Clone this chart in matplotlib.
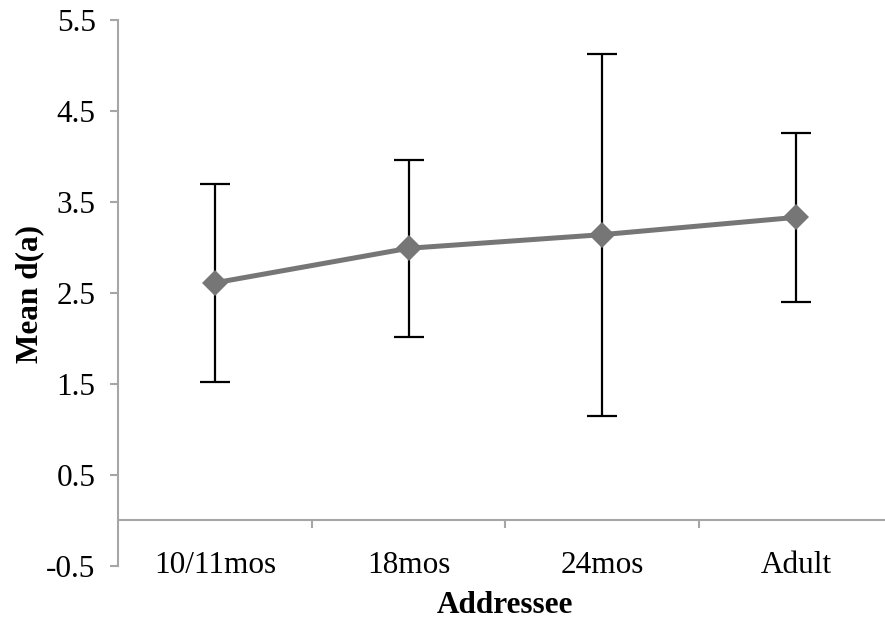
import matplotlib.pyplot as plt
import matplotlib.transforms as mtransforms

categories = ['10/11mos', '18mos', '24mos', 'Adult']
mean_da = [2.61, 2.99, 3.14, 3.33]
err_da = [1.09, 0.97, 1.99, 0.93]
yticks = [-0.5, 0.5, 1.5, 2.5, 3.5, 4.5, 5.5]

plt.rcParams['font.family'] = ['Liberation Serif', 'DejaVu Serif']

fig = plt.figure(figsize=(8.85, 6.19), dpi=100)
ax = fig.add_axes([0.1333, 0.0861, 0.8667, 0.8816])

xs = list(range(len(categories)))

# error bars under the line
ax.errorbar(xs, mean_da, yerr=err_da, fmt='none', ecolor='black',
            elinewidth=1.6, capsize=11, capthick=1.6, zorder=2)
ax.plot(xs, mean_da, color='#767676', lw=3.6, marker='D', ms=13,
        markeredgewidth=0, zorder=3)

ax.set_xlim(-0.5, 3.46)
ax.set_ylim(-0.5, 5.5)
ax.set_yticks(yticks)
ax.set_yticklabels([str(v) for v in yticks], fontsize=22.5)

spine_col = '#a6a6a6'
for s in ['top', 'right']:
    ax.spines[s].set_visible(False)
ax.spines['left'].set_color(spine_col)
ax.spines['left'].set_linewidth(1.5)
ax.spines['bottom'].set_color(spine_col)
ax.spines['bottom'].set_linewidth(1.5)
ax.spines['bottom'].set_position(('data', 0))

ax.tick_params(axis='y', direction='out', length=6, width=1.5, color=spine_col, pad=10)
ax.set_xticks([0.5, 1.5, 2.5])
ax.set_xticklabels([])
ax.tick_params(axis='x', direction='out', length=6, width=1.5, color=spine_col)

# category labels sit at the bottom of the plot area
for i, c in enumerate(categories):
    ax.text(i, -0.5, c, ha='center', va='center', fontsize=22.5, clip_on=False)

ax.text(1.5, -0.5, 'Addressee', ha='center', va='center', fontsize=22.5, fontweight='bold',
        transform=mtransforms.offset_copy(ax.transData, fig=fig, y=-40, units='dots'),
        clip_on=False)
fig.text(0.034, 0.525, 'Mean d(a)', rotation=90, ha='center', va='center',
         fontsize=22.5, fontweight='bold')

fig.savefig('out.png', dpi=100)
